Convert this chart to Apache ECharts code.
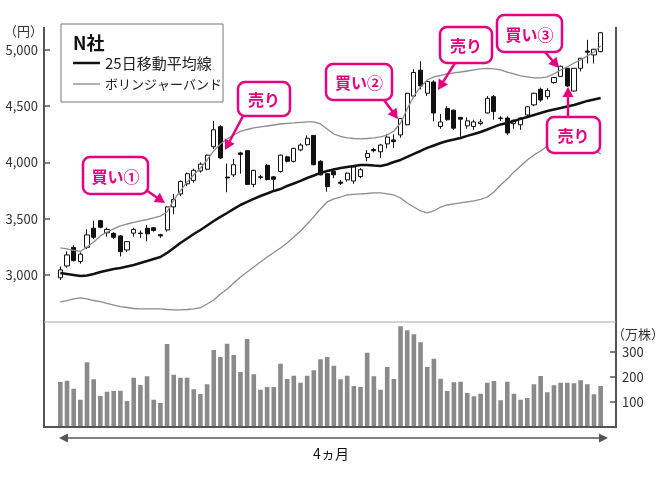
<!DOCTYPE html>
<html><head><meta charset="utf-8">
<script src="https://cdn.jsdelivr.net/npm/echarts@6/dist/echarts.min.js"></script>
<style>html,body{margin:0;padding:0;background:#fff}#c{width:670px;height:479px}</style>
</head><body><div id="c"></div>
<script>
// ---- data ----
const days = Array.from({length: 82}, (_, i) => String(i + 1));
// [open, close, low, high]
const ohlc = [
 [2975,3045,2955,3075],[3080,3178,3065,3210],[3245,3128,3120,3265],[3120,3185,3100,3200],
 [3246,3356,3230,3406],[3415,3335,3320,3483],[3483,3424,3415,3490],[3375,3405,3340,3420],
 [3370,3335,3320,3380],[3347,3207,3165,3355],[3222,3296,3205,3300],[3372,3405,3340,3420],
 [3372,3368,3330,3395],[3415,3365,3300,3445],[3420,3395,3385,3425],[3358,3348,3330,3365],
 [3400,3605,3385,3610],[3605,3670,3540,3720],[3720,3830,3700,3840],[3810,3900,3790,3910],
 [3840,3930,3820,3945],[3925,3985,3910,4000],[3940,4065,3930,4070],[4140,4290,4120,4370],
 [4318,4040,4030,4330],[3870,3862,3735,3990],[3890,3980,3870,4030],[4085,4070,3900,4095],
 [4105,3805,3800,4110],[3805,3930,3780,3935],[3872,3868,3850,3890],[3975,3848,3840,3985],
 [3872,3850,3740,3880],[3920,4065,3910,4070],[4050,4010,4000,4060],[4010,4125,4000,4130],
 [4112,4155,4100,4170],[4158,4215,4150,4240],[4240,3980,3975,4245],[4010,3890,3885,4020],
 [3900,3785,3740,3905],[3920,3890,3860,3950],[3825,3815,3800,3845],[3845,3905,3830,3910],
 [3835,3960,3810,3975],[3875,3935,3860,3950],[4045,4080,4010,4110],[4115,4105,4090,4130],
 [4095,4155,4040,4165],[4165,4225,4125,4250],[4200,4185,4130,4250],[4245,4390,4220,4395],
 [4335,4615,4330,4620],[4590,4800,4580,4830],[4820,4680,4650,4900],[4615,4720,4590,4725],
 [4715,4440,4365,4730],[4320,4360,4300,4430],[4480,4380,4370,4500],[4465,4305,4290,4470],
 [4400,4385,4230,4405],[4325,4370,4300,4400],[4320,4360,4290,4380],[4345,4360,4330,4385],
 [4440,4570,4435,4590],[4585,4452,4380,4600],[4395,4390,4370,4410],[4395,4262,4245,4410],
 [4345,4375,4300,4380],[4335,4395,4290,4400],[4422,4495,4400,4500],[4512,4615,4500,4620],
 [4650,4555,4540,4665],[4585,4640,4560,4660],[4710,4755,4700,4760],[4765,4855,4760,4860],
 [4837,4680,4670,4840],[4635,4837,4630,4840],[4837,4926,4810,4930],[4990,4980,4880,5090],
 [4956,5006,4880,5010],[4985,5153,4980,5160]
];
const ma25 = [3018,3009,3000,2991,2996,3009,3027,3040,3053,3062,3076,3089,3107,3124,3142,3160,
 3196,3240,3284,3324,3364,3400,3440,3480,3516,3551,3587,3622,3649,3676,3702,3724,3747,3764,
 3791,3813,3836,3862,3884,3907,3924,3938,3951,3960,3969,3978,3978,3973,3969,3982,4004,4022,
 4049,4076,4102,4129,4151,4173,4191,4204,4218,4236,4253,4271,4293,4316,4338,4351,4369,4387,
 4404,4422,4440,4458,4471,4484,4498,4511,4529,4547,4560,4573];
const bbUpper = [3240,3231,3218,3209,3249,3293,3347,3382,3409,3436,3453,3467,3480,3493,3507,3524,
 3560,3667,3747,3827,3889,3951,4022,4102,4164,4209,4244,4276,4293,4307,4316,4324,4333,4342,
 4347,4351,4356,4360,4360,4342,4298,4253,4231,4218,4213,4209,4213,4218,4227,4244,4280,4351,
 4476,4591,4671,4733,4760,4773,4787,4796,4804,4813,4822,4831,4836,4831,4822,4804,4787,4769,
 4760,4751,4751,4760,4787,4822,4849,4884,4911,4947,4982,5036];
const bbLower = [2760,2773,2787,2796,2787,2773,2763,2747,2733,2718,2711,2702,2698,2698,2698,2698,
 2693,2689,2689,2693,2698,2709,2742,2778,2831,2876,2929,2982,3027,3071,3116,3160,3200,3240,
 3284,3338,3391,3453,3516,3587,3649,3676,3693,3711,3716,3720,3724,3729,3729,3720,3711,3684,
 3640,3604,3569,3551,3569,3604,3622,3631,3640,3649,3658,3671,3693,3738,3800,3853,3916,3969,
 4022,4067,4102,4147,4182,4200,4209,4200,4173,4138,4111,4076];
// 出来高（万株）
const volume = [180,185,153,109,259,191,124,141,144,145,104,197,168,203,109,96,332,209,197,197,
 151,132,171,308,280,333,288,220,352,211,149,160,160,253,192,205,177,205,227,271,280,245,
 191,205,164,160,297,203,149,240,192,403,387,371,339,240,273,193,144,179,181,136,123,133,177,
 184,107,181,133,109,116,171,204,139,167,177,177,175,187,171,131,164];
const priceTicks = [3000, 3500, 4000, 4500, 5000];
const volumeTicks = [100, 200, 300];

// ---- drawing ----
const FONT = '"Noto Sans CJK JP", "Noto Sans", sans-serif';
const PINK = '#e4007f';
const chart = echarts.init(document.getElementById('c'), null, {renderer: 'canvas'});

function pinkBox(x, y, w, h, text) {
  return [
    {type: 'rect', z: 100, shape: {x, y, width: w, height: h, r: 7},
     style: {fill: '#fff', stroke: PINK, lineWidth: 2.5}},
    {type: 'text', z: 101, x: x + w / 2, y: y + h / 2 + 1,
     style: {text, fill: PINK, font: 'bold 16px ' + FONT, align: 'center', verticalAlign: 'middle'}}
  ];
}
function arrow(x1, y1, x2, y2, color, width, hl, hw) {
  const dx = x2 - x1, dy = y2 - y1, L = Math.hypot(dx, dy), ux = dx / L, uy = dy / L;
  const bx = x2 - ux * hl, by = y2 - uy * hl, px = -uy, py = ux;
  return [
    {type: 'line', z: 100, shape: {x1, y1, x2: bx + ux, y2: by + uy}, style: {stroke: color, lineWidth: width}},
    {type: 'polygon', z: 100, shape: {points: [[x2, y2], [bx + px * hw, by + py * hw], [bx - px * hw, by - py * hw]]},
     style: {fill: color}}
  ];
}
function hline(x1, y1, x2, y2, color, width, z) {
  return {type: 'line', z: z || 50, shape: {x1, y1, x2, y2}, style: {stroke: color, lineWidth: width}};
}

const graphics = [
  hline(44, 27, 44, 427, '#555', 2),
  hline(616, 27, 616, 427, '#555', 2),
  hline(43, 427, 617, 427, '#555', 2),
  hline(44, 322, 616, 322, '#aaa', 1),
  // legend box
  {type: 'rect', z: 60, shape: {x: 61, y: 24, width: 162, height: 78}, style: {fill: '#fff', stroke: '#777', lineWidth: 1}},
  {type: 'text', z: 61, x: 73, y: 43, style: {text: 'N社', fill: '#111', font: 'bold 18px ' + FONT, verticalAlign: 'middle'}},
  hline(73, 63, 100, 63, '#111', 2.5, 61),
  {type: 'text', z: 61, x: 105, y: 63, style: {text: '25日移動平均線', fill: '#222', font: '15px ' + FONT, verticalAlign: 'middle'}},
  hline(73, 84, 100, 84, '#888', 1.3, 61),
  {type: 'text', z: 61, x: 105, y: 84, style: {text: 'ボリンジャーバンド', fill: '#222', font: '13px ' + FONT, verticalAlign: 'middle'}},
  // units
  {type: 'text', z: 61, x: 4, y: 31, style: {text: '（円）', fill: '#333', font: '13px ' + FONT, verticalAlign: 'middle'}},
  {type: 'text', z: 61, x: 612, y: 334, style: {text: '（万株）', fill: '#333', font: '13px ' + FONT, verticalAlign: 'middle'}},
  // bottom period arrow
  ...arrow(333, 438, 59, 438, '#555', 1.5, 9, 4.5),
  ...arrow(333, 438, 608, 438, '#555', 1.5, 9, 4.5),
  {type: 'text', z: 61, x: 331, y: 454, style: {text: '4ヵ月', fill: '#111', font: '14px ' + FONT, align: 'center', verticalAlign: 'middle'}},
  // annotations
  ...pinkBox(83, 157, 65, 37, '買い①'), ...arrow(146, 190, 165, 203, PINK, 2.5, 10, 5.5),
  ...pinkBox(238, 82, 52, 34, '売り'), ...arrow(243, 116, 225, 150, PINK, 2.5, 10, 5.5),
  ...pinkBox(326, 64, 66, 36, '買い②'), ...arrow(384, 100, 398, 119, PINK, 2.5, 10, 5.5),
  ...pinkBox(440, 27, 52, 36, '売り'), ...arrow(455, 63, 438, 90, PINK, 2.5, 10, 5.5),
  ...pinkBox(497, 15, 65, 37, '買い③'), ...arrow(545, 52, 559, 68, PINK, 2.5, 10, 5.5),
  ...pinkBox(547, 117, 53, 36, '売り'), ...arrow(568, 117, 568, 87, PINK, 2.5, 10, 5.5)
];

const hiddenX = {axisLine: {show: false}, axisTick: {show: false}, axisLabel: {show: false}, splitLine: {show: false}};

chart.setOption({
  animation: false,
  backgroundColor: '#fff',
  textStyle: {fontFamily: FONT},
  grid: [
    {left: 57, right: 66, top: 27, height: 295},
    {left: 57, right: 66, top: 322, height: 105}
  ],
  xAxis: [
    Object.assign({type: 'category', data: days, gridIndex: 0}, hiddenX),
    Object.assign({type: 'category', data: days, gridIndex: 1}, hiddenX)
  ],
  yAxis: [
    {type: 'value', gridIndex: 0, min: 2582, max: 5204, offset: 13,
     axisLine: {show: false}, splitLine: {show: false},
     axisTick: {show: true, inside: true, length: 6, lineStyle: {color: '#555', width: 1.5}, customValues: priceTicks},
     axisLabel: {customValues: priceTicks, color: '#333', fontSize: 13, margin: 6, fontFamily: FONT,
                 formatter: v => Number(v).toLocaleString('en-US')}},
    {type: 'value', gridIndex: 1, position: 'right', min: 0, max: 420, offset: 12,
     axisLine: {show: false}, splitLine: {show: false},
     axisTick: {show: true, inside: true, length: 6, lineStyle: {color: '#555', width: 1.5}, customValues: volumeTicks},
     axisLabel: {customValues: volumeTicks, color: '#333', fontSize: 13, margin: 6, fontFamily: FONT}}
  ],
  series: [
    {type: 'candlestick', xAxisIndex: 0, yAxisIndex: 0, data: ohlc, barWidth: 4.6, z: 2,
     itemStyle: {color: '#fff', color0: '#111', borderColor: '#111', borderColor0: '#111', borderWidth: 1}},
    {type: 'line', xAxisIndex: 0, yAxisIndex: 0, data: bbUpper, symbol: 'none', z: 3,
     lineStyle: {color: '#8c8c8c', width: 1.3}},
    {type: 'line', xAxisIndex: 0, yAxisIndex: 0, data: bbLower, symbol: 'none', z: 3,
     lineStyle: {color: '#8c8c8c', width: 1.3}},
    {type: 'line', xAxisIndex: 0, yAxisIndex: 0, data: ma25, symbol: 'none', z: 4,
     lineStyle: {color: '#111', width: 2.5}},
    {type: 'bar', xAxisIndex: 1, yAxisIndex: 1, data: volume, barWidth: 4.6,
     itemStyle: {color: '#8a8a8a'}}
  ],
  graphic: graphics
});
</script>
</body></html>
